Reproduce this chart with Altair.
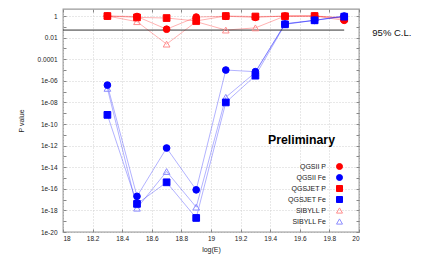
import altair as alt
import pandas as pd

energies = [18.3, 18.5, 18.7, 18.9, 19.1, 19.3, 19.5, 19.7, 19.9]
series_names = ["QGSII P", "QGSII Fe", "QGSJET P", "QGSJET Fe", "SIBYLL P", "SIBYLL Fe"]
qgsii_p = [1.0, 0.9, 0.06, 0.8, 0.95, 0.75, 1.0, 1.0, 0.4]
qgsjet_p = [1.0, 0.75, 0.65, 0.35, 1.0, 0.9, 0.95, 1.0, 0.6]
sibyll_p = [1.0, 0.3, 0.0025, 0.3, 0.05, 0.08, 1.0, 1.0, 0.7]
qgsii_fe = [4e-7, 2e-17, 6e-13, 8e-17, 1e-5, 7e-6, 0.18, 0.4, 1.0]
qgsjet_fe = [7e-10, 4e-18, 4e-16, 2e-19, 1e-8, 3e-6, 0.17, 0.4, 0.87]
sibyll_fe = [2e-7, 1.6e-18, 4e-15, 2e-18, 3e-8, 6e-6, 0.2, 0.4, 1.0]
cl_level = 0.05

values = {
    "QGSII P": qgsii_p, "QGSJET P": qgsjet_p, "SIBYLL P": sibyll_p,
    "QGSII Fe": qgsii_fe, "QGSJET Fe": qgsjet_fe, "SIBYLL Fe": sibyll_fe,
}
draw_order = ["SIBYLL P", "QGSII P", "QGSJET P", "SIBYLL Fe", "QGSII Fe", "QGSJET Fe"]
rows = []
for s in draw_order:
    for e, p in zip(energies, values[s]):
        rows.append({"logE": e, "p": p, "series": s, "primary": s.split()[-1]})
df = pd.DataFrame(rows)

W, H = 296, 223
FONT = "Liberation Sans"
x_scale = alt.Scale(domain=[18, 20], nice=False, zero=False)
y_scale = alt.Scale(type="log", domain=[1e-20, 4.47], nice=False)
x_ticks = [18 + 0.2 * i for i in range(11)]
y_major = [10.0 ** (-k) for k in range(0, 21, 2)]
y_all = [10.0 ** (-k) for k in range(0, 21)]

lab = "round(log(datum.value)/LN10)"
y_label_expr = (f"{lab} == 0 ? '1' : {lab} == -2 ? '0.01' : {lab} == -4 ? '0.0001' : "
                f"'1e-' + (-{lab} < 10 ? '0' : '') + (-{lab})")

stroke_colors = ["#ff0000", "#0000ff", "#ff0000", "#0000ff", "#ff8c8c", "#8c8cff"]
fill_colors = ["#ff0000", "#0000ff", "#ff0000", "#0000ff", "transparent", "transparent"]
shapes = ["circle", "circle", "square", "square", "triangle-up", "triangle-up"]

base = alt.Chart(df)

lines = base.mark_line(strokeWidth=1, opacity=0.3).encode(
    x=alt.X("logE:Q", scale=x_scale, axis=alt.Axis(
        title="log(E)", values=x_ticks, format=".1~f", ticks=False, domain=False,
        labelFontSize=6.5, labelPadding=3, labelFont=FONT, labelColor="#222",
        grid=True, gridColor="#d0d0d0", gridDash=[1, 2],
        titleFontSize=7, titleFont=FONT, titleFontWeight="normal", titleColor="#222",
        titleY=17, titleBaseline="middle")),
    y=alt.Y("p:Q", scale=y_scale, axis=alt.Axis(
        title="P value", values=y_major, labelExpr=y_label_expr, ticks=False, domain=False,
        labelFontSize=6.5, labelPadding=6, labelFont=FONT, labelColor="#222",
        grid=True, gridColor="#d0d0d0", gridDash=[1, 2],
        titleFontSize=7, titleFont=FONT, titleFontWeight="normal", titleColor="#222",
        titleX=-42, titleY=H / 2, titleBaseline="middle", titleAngle=-90)),
    color=alt.Color("primary:N", scale=alt.Scale(domain=["P", "Fe"], range=["#ff0000", "#0000ff"]), legend=None),
    detail="series:N",
)

legend = alt.Legend(
    title=None, orient="none", legendX=273, legendY=154, direction="vertical",
    labelAlign="right", labelOffset={"expr": "-17"},
    labelFontSize=7, labelFont=FONT, labelColor="#222", labelLimit=0,
    symbolSize=36, symbolStrokeWidth=1, rowPadding=0, padding=0,
)

points = base.mark_point(size=45, strokeWidth=1, opacity=1).encode(
    x=alt.X("logE:Q", scale=x_scale, axis=alt.Axis(
        orient="top", offset=-H, values=x_ticks, labels=False, domain=False, grid=False,
        title=None, tickSize=3, tickColor="#888")),
    y=alt.Y("p:Q", scale=y_scale, axis=alt.Axis(
        orient="right", offset=-W, values=y_all, labels=False, domain=False, grid=False,
        title=None, tickSize=3, tickColor="#888")),
    stroke=alt.Stroke("series:N", scale=alt.Scale(domain=series_names, range=stroke_colors), legend=legend),
    fill=alt.Fill("series:N", scale=alt.Scale(domain=series_names, range=fill_colors), legend=legend),
    shape=alt.Shape("series:N", scale=alt.Scale(domain=series_names, range=shapes), legend=legend),
)

cl_rule = alt.Chart(pd.DataFrame({"lvl": [cl_level]})).mark_rule(color="#333", strokeWidth=1).encode(
    x=alt.datum(18, scale=x_scale, axis=alt.Axis(
        orient="bottom", offset=-H, values=x_ticks, labels=False, domain=False, grid=False,
        title=None, tickSize=3, tickColor="#888")),
    x2=alt.datum(19.9),
    y=alt.Y("lvl:Q", scale=y_scale, axis=alt.Axis(
        orient="left", offset=-W, values=y_all, labels=False, domain=False, grid=False,
        title=None, tickSize=3, tickColor="#888")),
)

prelim = alt.Chart(pd.DataFrame({"t": ["Preliminary"]})).mark_text(
    align="left", baseline="alphabetic", fontSize=12.3, fontWeight="bold", font=FONT, color="#000"
).encode(
    x=alt.datum(19.385, scale=x_scale, axis=None),
    y=alt.datum(10 ** -11.85, scale=y_scale, axis=None),
    text="t:N",
)

cl_text = alt.Chart(pd.DataFrame({"t": ["95% C.L."]})).mark_text(
    align="left", baseline="middle", dy=3, fontSize=9.5, font=FONT, color="#111"
).encode(
    x=alt.datum(20.09, scale=x_scale, axis=None),
    y=alt.datum(cl_level, scale=y_scale, axis=None),
    text="t:N",
)

chart = alt.layer(lines, cl_rule, points, prelim, cl_text).resolve_axis(
    x="independent", y="independent"
).properties(
    width=W, height=H, background="white",
    autosize=alt.AutoSizeParams(type="none"),
    padding={"left": 55, "top": 1, "right": 65, "bottom": 26},
).configure_view(
    stroke="#999", strokeWidth=1.3
).configure_legend(
    symbolSize=36, symbolStrokeWidth=1, rowPadding=0
)

chart.save("out.html", embed_options={"renderer": "svg", "actions": False})
